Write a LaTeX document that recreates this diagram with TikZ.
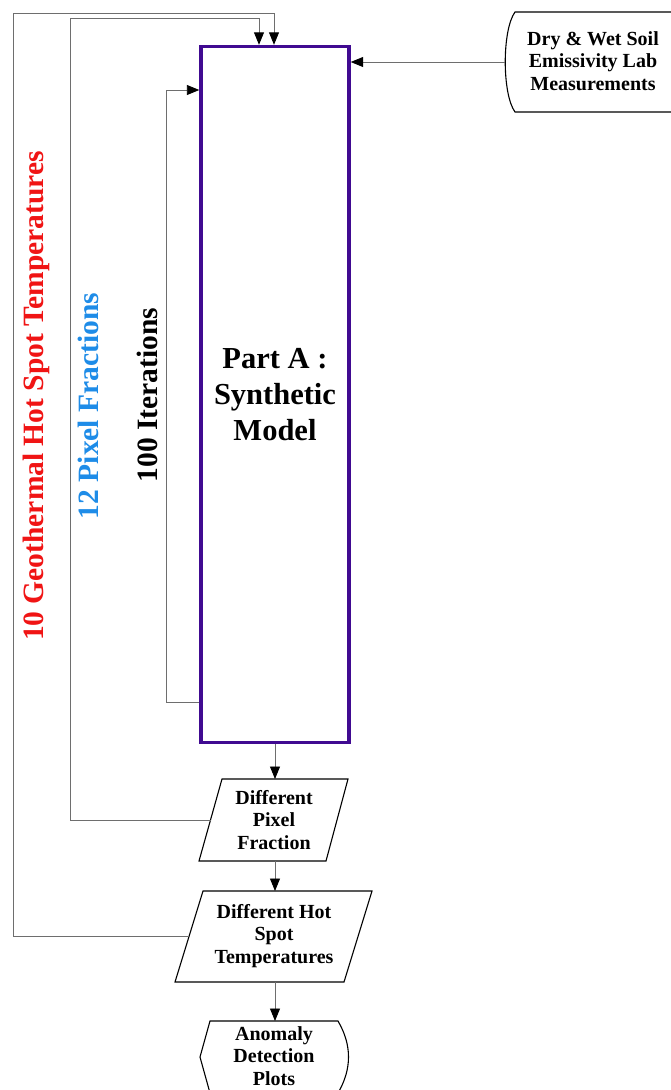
\documentclass[tikz,border=0pt]{standalone}
\usepackage{fontspec}
\setmainfont{Liberation Serif}
\usetikzlibrary{arrows.meta}
\definecolor{mainpurple}{RGB}{64,10,145}
\definecolor{fracblue}{RGB}{30,140,232}
\definecolor{hotred}{RGB}{240,20,20}
\definecolor{linegray}{RGB}{110,110,110}
\begin{document}
\begin{tikzpicture}[x=1pt,y=-1pt,
  conn/.style={draw=linegray, line width=0.9pt},
  arr/.style={conn, -{Triangle[length=12.5pt,width=10pt,black]}},
  shapeline/.style={draw=black, line width=1.1pt},
  boxtext/.style={font=\fontsize{20}{22.5}\selectfont\bfseries, align=center, inner sep=0pt},
  sidelabel/.style={font=\fontsize{29.5}{31}\selectfont\bfseries, rotate=90, anchor=base, inner sep=0pt}]
\useasboundingbox (0,0) rectangle (671,1090);
\clip (0,0) rectangle (671,1090);
\fill[white] (0,0) rectangle (671,1090);

% main box
\node[draw=mainpurple, line width=3.4pt, minimum width=148pt, minimum height=696pt,
      inner sep=0pt, align=center, font=\fontsize{30.5}{36}\selectfont\bfseries] (main) at (275,394.5)
      {Part A :\\Synthetic\\Model};

% dry & wet box
\draw[shapeline] (720,12) -- (515,12) .. controls (502,30) and (502,94) .. (515,112) -- (720,112);
\coordinate (dryL) at (505,62);
\node[boxtext] (dry) at (593,61) {Dry \& Wet Soil\\Emissivity Lab\\Measurements};

% parallelogram 1
\draw[shapeline] (222,779) -- (348,779) -- (326,861) -- (199,861) -- cycle;
\coordinate (p1T) at (275,779);
\coordinate (p1B) at (275,861);
\coordinate (p1L) at (210.5,820);
\node[boxtext] (p1) at (274,820) {Different\\Pixel\\Fraction};

% parallelogram 2
\draw[shapeline] (203,891) -- (372,891) -- (344,982) -- (175,982) -- cycle;
\coordinate (p2T) at (275,891);
\coordinate (p2B) at (275,982);
\coordinate (p2L) at (189,936.5);
\node[boxtext] (p2) at (274,936) {Different Hot\\Spot\\Temperatures};

% anomaly display shape
\draw[shapeline] (210,1021) -- (338,1021) .. controls (352,1045) and (352,1069) .. (338,1093)
   -- (210,1093) -- (200,1057) -- cycle;
\coordinate (anT) at (275,1021);
\node[boxtext] (an) at (274,1056) {Anomaly\\Detection\\Plots};

% vertical flow
\draw[arr] (main.south) -- (p1T);
\draw[arr] (p1B) -- (p2T);
\draw[arr] (p2B) -- (anT);
\draw[arr] (dryL) -- (dryL -| main.east);

% feedback loops
\coordinate (a1) at (259,18);
\coordinate (a2) at (274,13);
\draw[arr] (p2L) -- (13,936.5) |- (a2) -- (a2 |- main.north);
\draw[arr] (p1L) -- (70,820) |- (a1) -- (a1 |- main.north);
\coordinate (itB) at (201,702);
\coordinate (itT) at (166,90);
\draw[arr] (itB -| main.west) -- (166,702) |- (itT -| main.west);

% side labels
\node[sidelabel, text=hotred] (lab1) at (43,396) {10 Geothermal Hot Spot Temperatures};
\node[sidelabel, text=fracblue] (lab2) at (98,406) {12 Pixel Fractions};
\node[sidelabel, text=black] (lab3) at (157,395) {100 Iterations};
\end{tikzpicture}
\end{document}
